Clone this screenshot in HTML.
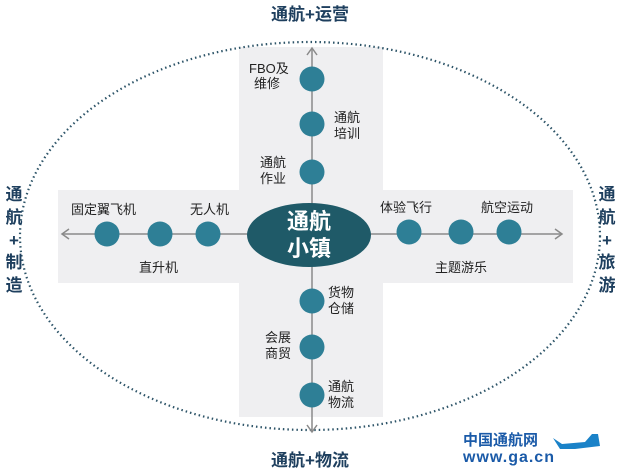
<!DOCTYPE html>
<html><head><meta charset="utf-8"><style>
body{margin:0;background:#fff;}
svg text{font-family:"Liberation Sans","Noto Sans CJK SC",sans-serif;}
</style></head><body>
<svg width="620" height="471" viewBox="0 0 620 471" xmlns="http://www.w3.org/2000/svg">
<rect x="239" y="47" width="144" height="370" fill="#efeff1"/>
<rect x="58" y="190" width="515" height="93" fill="#efeff1"/>
<ellipse cx="310" cy="236" rx="290" ry="194" fill="none" stroke="#2d5468" stroke-width="2.2" stroke-dasharray="1.5 3"/>
<g stroke="#8a8a8a" stroke-width="1.5" fill="none">
<line x1="312" y1="48" x2="312" y2="432"/>
<polyline points="307,55 312,48 317,55"/>
<polyline points="307,425 312,432 317,425"/>
<line x1="62" y1="234" x2="562" y2="234"/>
<polyline points="69,229 62,234 69,239"/>
<polyline points="555,229 562,234 555,239"/>
</g>
<g fill="#2e7f96">
<circle cx="312" cy="79" r="12.5"/><circle cx="312" cy="124" r="12.5"/><circle cx="312" cy="172" r="12.5"/>
<circle cx="312" cy="301" r="12.5"/><circle cx="312" cy="347" r="12.5"/><circle cx="312" cy="395" r="12.5"/>
<circle cx="107" cy="234" r="12.5"/><circle cx="160" cy="234" r="12.5"/><circle cx="208" cy="234" r="12.5"/>
<circle cx="409" cy="232" r="12.5"/><circle cx="461" cy="232" r="12.5"/><circle cx="509" cy="232" r="12.5"/>
</g>
<ellipse cx="309" cy="235" rx="62" ry="32" fill="#1f5a68"/>
<text x="309" y="229" font-size="22" font-weight="bold" fill="#fff" text-anchor="middle">通航</text>
<text x="309" y="256" font-size="22" font-weight="bold" fill="#fff" text-anchor="middle">小镇</text>
<g font-size="13" fill="#222">
<text x="249" y="73">FBO及</text><text x="254" y="88">维修</text>
<text x="334" y="122">通航</text><text x="334" y="138">培训</text>
<text x="260" y="167">通航</text><text x="260" y="183">作业</text>
<text x="328" y="297">货物</text><text x="328" y="313">仓储</text>
<text x="265" y="342">会展</text><text x="265" y="358">商贸</text>
<text x="328" y="391">通航</text><text x="328" y="407">物流</text>
<text x="71" y="214">固定翼飞机</text>
<text x="190" y="214">无人机</text>
<text x="139" y="272">直升机</text>
<text x="380" y="212">体验飞行</text>
<text x="481" y="212">航空运动</text>
<text x="435" y="272">主题游乐</text>
</g>
<g font-size="17" font-weight="bold" fill="#1e3f5e" text-anchor="middle">
<text x="310" y="20">通航+运营</text>
<text x="310" y="466">通航+物流</text>
<text x="14" y="200">通</text><text x="14" y="223">航</text><text x="14" y="246">+</text><text x="14" y="268">制</text><text x="14" y="291">造</text>
<text x="607" y="200">通</text><text x="607" y="223">航</text><text x="607" y="246">+</text><text x="607" y="268">旅</text><text x="607" y="291">游</text>
</g>
<text x="463" y="445" font-size="15" font-weight="bold" fill="#1a5aa8">中国通航网</text>
<text x="463" y="462" font-size="16" font-weight="bold" fill="#1a5aa8" letter-spacing="1">www.ga.cn</text>
<path d="M553 438 L562 444 L585 442 L592 434 L598 434 L600 446 L575 449 L560 449 Z" fill="#1a82c8"/>
</svg>
</body></html>
